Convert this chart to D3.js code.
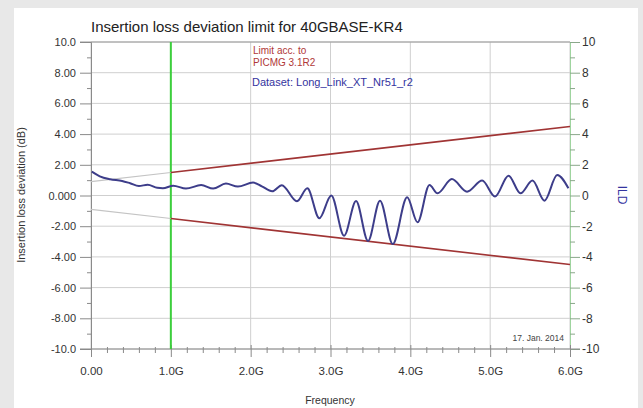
<!DOCTYPE html>
<html>
<head>
<meta charset="utf-8">
<script src="https://cdn.jsdelivr.net/npm/d3@7"></script>
<style>
  html, body { margin: 0; padding: 0; background: #e8e8e8; }
  svg { display: block; font-family: "Liberation Sans", Arial, sans-serif; }
</style>
</head>
<body>
<svg id="chart" width="643" height="408"></svg>
<script>
// ---- data ----
const titleText = "Insertion loss deviation limit for 40GBASE-KR4";
const xTickValues = [0, 1, 2, 3, 4, 5, 6];
const xTickLabels = ["0.00", "1.0G", "2.0G", "3.0G", "4.0G", "5.0G", "6.0G"];
const yTickValues = [10, 8, 6, 4, 2, 0, -2, -4, -6, -8, -10];
const yTickLabels = ["10.0", "8.00", "6.00", "4.00", "2.00", "0.000", "-2.00", "-4.00", "-6.00", "-8.00", "-10.0"];
const y2TickLabels = ["10", "8", "6", "4", "2", "0", "-2", "-4", "-6", "-8", "-10"];
// ILD dataset (GHz, dB)
const ildFreq = [0.01, 0.11, 0.24, 0.39, 0.49, 0.60, 0.71, 0.83, 0.90, 1.03, 1.19, 1.38, 1.53, 1.69, 1.84, 2.03, 2.14, 2.27, 2.39, 2.58, 2.71, 2.86, 3.01, 3.17, 3.32, 3.47, 3.62, 3.78, 3.96, 4.09, 4.24, 4.34, 4.52, 4.71, 4.90, 5.06, 5.23, 5.38, 5.53, 5.68, 5.84, 5.98];
const ildValue = [1.55, 1.25, 1.06, 0.95, 0.80, 0.62, 0.70, 0.50, 0.47, 0.64, 0.45, 0.68, 0.45, 0.78, 0.58, 0.84, 0.60, 0.27, 0.67, -0.38, 0.47, -1.48, 0.0, -2.62, -0.36, -2.96, -0.34, -3.16, -0.12, -1.75, 0.68, 0.14, 1.07, 0.25, 0.97, -0.07, 1.29, 0.14, 0.97, -0.34, 1.33, 0.47];
// limit lines (GHz, dB)
const limitFreq = [1, 6];
const limitUpper = [1.5, 4.5];
const limitLower = [-1.5, -4.5];
const extFreq = [0, 1];
const extUpper = [0.9, 1.5];
const extLower = [-0.9, -1.5];
const markerFreq = 1;

// ---- layout ----
const svg = d3.select("#chart");
const L = 91, R = 570, T = 42, B = 349;
const x = d3.scaleLinear().domain([0, 6]).range([L, R]);
const y = d3.scaleLinear().domain([-10, 10]).range([B, T]);

// white panel
svg.append("rect").attr("x", 14).attr("y", 8).attr("width", 624).attr("height", 400).attr("fill", "#ffffff");

// grid
const grid = svg.append("g");
grid.selectAll(".hg").data(yTickValues).join("line")
  .attr("x1", L).attr("x2", R).attr("y1", d => y(d)).attr("y2", d => y(d))
  .attr("stroke", "#cfcfcf").attr("stroke-width", 1);
grid.selectAll(".vg").data(xTickValues).join("line")
  .attr("x1", d => x(d)).attr("x2", d => x(d)).attr("y1", T).attr("y2", B)
  .attr("stroke", "#cfcfcf").attr("stroke-width", 1);

// top border
svg.append("line").attr("x1", 80).attr("x2", R).attr("y1", T).attr("y2", T).attr("stroke", "#9a9a9a");

// left axis
const yAxis = d3.axisLeft(y).tickValues(yTickValues).tickFormat((d, i) => yTickLabels[i]).tickSize(11).tickPadding(4);
const gy = svg.append("g").attr("transform", `translate(${L},0)`).call(yAxis);
gy.select(".domain").attr("stroke", "#8a8a8a");
gy.selectAll(".tick line").attr("stroke", "#8a8a8a");
gy.selectAll(".tick text").attr("fill", "#333").attr("font-size", 11);
const yMinor = d3.axisLeft(y).tickValues(d3.range(-9, 10, 2)).tickFormat("").tickSize(4);
const gym = svg.append("g").attr("transform", `translate(${L},0)`).call(yMinor);
gym.select(".domain").remove();
gym.selectAll(".tick line").attr("stroke", "#8a8a8a");

// right axis
const y2Axis = d3.axisRight(y).tickValues(yTickValues).tickFormat((d, i) => y2TickLabels[i]).tickSize(10).tickPadding(2);
const gy2 = svg.append("g").attr("transform", `translate(${R},0)`).call(y2Axis);
gy2.select(".domain").attr("stroke", "#9fd49f");
gy2.selectAll(".tick line").attr("stroke", "#8aa88a");
gy2.selectAll(".tick text").attr("fill", "#333").attr("font-size", 12);
const y2Minor = d3.axisRight(y).tickValues(d3.range(-9, 10, 2)).tickFormat("").tickSize(5);
const gy2m = svg.append("g").attr("transform", `translate(${R},0)`).call(y2Minor);
gy2m.select(".domain").remove();
gy2m.selectAll(".tick line").attr("stroke", "#8aa88a");

// bottom axis
svg.append("line").attr("x1", 80).attr("x2", 580).attr("y1", B).attr("y2", B).attr("stroke", "#8a8a8a");
const xAxis = d3.axisBottom(x).tickValues(xTickValues).tickFormat((d, i) => xTickLabels[i]).tickSize(8).tickPadding(10);
const gx = svg.append("g").attr("transform", `translate(0,${B})`).call(xAxis);
gx.select(".domain").remove();
gx.selectAll(".tick line").attr("stroke", "#8a8a8a").attr("y1", -4);
gx.selectAll(".tick text").attr("fill", "#333").attr("font-size", 11.5);
const xMinorVals = d3.range(0, 6.001, 0.2).filter(v => Math.abs(v - Math.round(v)) > 0.01);
const xMinor = d3.axisBottom(x).tickValues(xMinorVals).tickFormat("").tickSize(4);
const gxm = svg.append("g").attr("transform", `translate(0,${B})`).call(xMinor);
gxm.select(".domain").remove();
gxm.selectAll(".tick line").attr("stroke", "#8a8a8a").attr("y1", -2);

// green marker
svg.append("line").attr("x1", x(markerFreq)).attr("x2", x(markerFreq)).attr("y1", T).attr("y2", B)
  .attr("stroke", "#3ccf3c").attr("stroke-width", 2);

// limit lines
const line = d3.line().x(d => x(d[0])).y(d => y(d[1]));
svg.append("path").attr("d", line(d3.zip(extFreq, extUpper))).attr("fill", "none").attr("stroke", "#c4c4c4").attr("stroke-width", 1.2);
svg.append("path").attr("d", line(d3.zip(extFreq, extLower))).attr("fill", "none").attr("stroke", "#c4c4c4").attr("stroke-width", 1.2);
svg.append("path").attr("d", line(d3.zip(limitFreq, limitUpper))).attr("fill", "none").attr("stroke", "#a03434").attr("stroke-width", 1.6);
svg.append("path").attr("d", line(d3.zip(limitFreq, limitLower))).attr("fill", "none").attr("stroke", "#a03434").attr("stroke-width", 1.6);

// ILD curve
const curve = d3.line().x(d => x(d[0])).y(d => y(d[1])).curve(d3.curveMonotoneX);
svg.append("path").attr("d", curve(d3.zip(ildFreq, ildValue))).attr("fill", "none")
  .attr("stroke", "#3d3d8a").attr("stroke-width", 2);

// texts
svg.append("text").attr("x", 91).attr("y", 32).attr("font-size", 15).attr("fill", "#222").text(titleText);
svg.append("text").attr("x", 253).attr("y", 53.5).attr("font-size", 10).attr("fill", "#b03838").text("Limit acc. to");
svg.append("text").attr("x", 253).attr("y", 65.5).attr("font-size", 10).attr("fill", "#b03838").text("PICMG 3.1R2");
svg.append("text").attr("x", 252).attr("y", 86).attr("font-size", 11).attr("fill", "#3434a0").text("Dataset: Long_Link_XT_Nr51_r2");
svg.append("text").attr("x", 564).attr("y", 341).attr("text-anchor", "end").attr("font-size", 8.5).attr("fill", "#444").text("17. Jan. 2014");
svg.append("text").attr("x", 330).attr("y", 404).attr("text-anchor", "middle").attr("font-size", 10.5).attr("fill", "#333").text("Frequency");
svg.append("text").attr("transform", "translate(25,195) rotate(-90)").attr("text-anchor", "middle").attr("font-size", 11).attr("fill", "#333").text("Insertion loss deviation (dB)");
svg.append("text").attr("transform", "translate(618,195) rotate(90)").attr("text-anchor", "middle").attr("font-size", 12).attr("fill", "#3434a0").text("ILD");
</script>
</body>
</html>
